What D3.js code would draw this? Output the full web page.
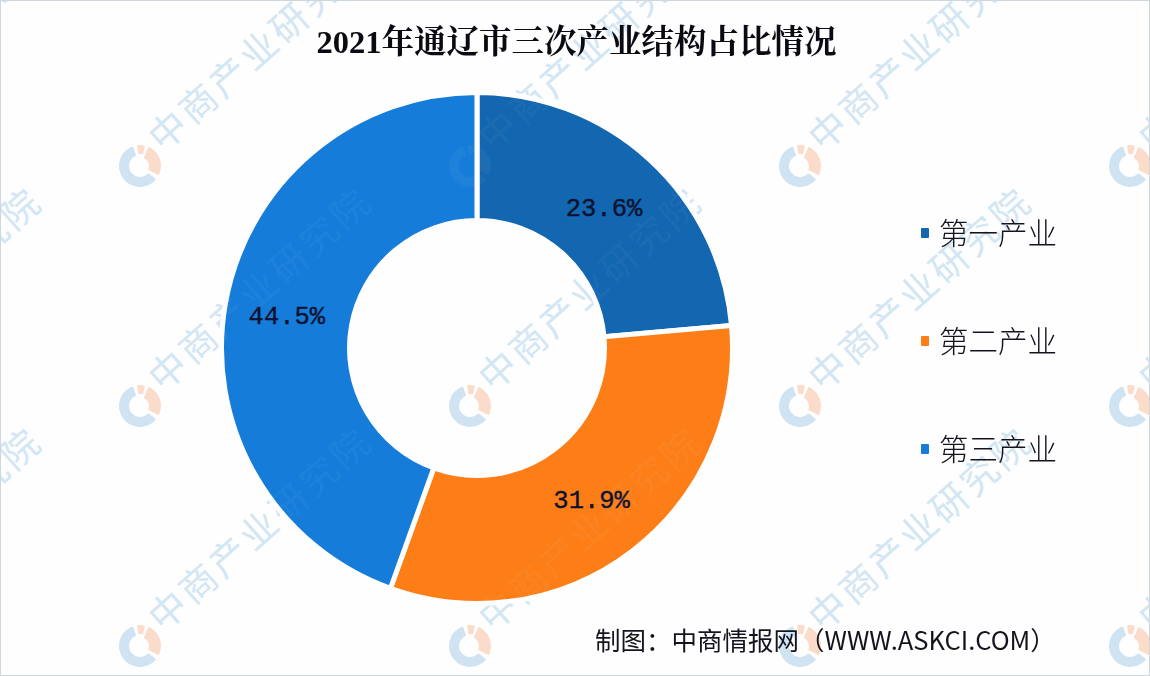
<!DOCTYPE html>
<html><head><meta charset="utf-8">
<script src="https://cdnjs.cloudflare.com/ajax/libs/d3/7.8.5/d3.min.js"></script>
<style>html,body{margin:0;padding:0;background:#fff;overflow:hidden}svg{display:block}</style>
</head><body><svg id="c" width="1150" height="676"></svg>
<script>
const titleText = "2021年通辽市三次产业结构占比情况";
const categories = ["第一产业","第二产业","第三产业"];
const values = [23.6,31.9,44.5];
const colors = ["#1366b0","#fd7e17","#157cd9"];
const sourceText = "制图:中商情报网(WWW.ASKCI.COM)";
const wmText = "中商产业研究院";
const wmCols = [-190,140,470,800,1130];
const wmRows = [166,406,646];

const svg = d3.select("#c");
svg.append("rect").attr("width",1150).attr("height",676).attr("fill","#fefefe");

function watermark(parent, op){
  const g = parent.append("g").attr("opacity",op);
  const rad = d=>d*Math.PI/180;
  const logoArc = d3.arc().cornerRadius(1);
  const pieces = [[130,340,11,21,"#cfe3f2"],[-8,14,12,21,"#fbdccb"],[24,116,9,21,"#fbdccb"]];
  wmCols.forEach(x=>wmRows.forEach(y=>{
    const w = g.append("g").attr("transform",`translate(${x},${y})`);
    pieces.forEach(a=>{
      w.append("path").attr("d",logoArc({startAngle:rad(a[0]),endAngle:rad(a[1]),innerRadius:a[2],outerRadius:a[3]})).attr("fill",a[4]);
    });
    w.append("text").attr("transform","translate(23,-13) rotate(-41.6)")
      .attr("font-family","'Noto Sans CJK SC'").attr("font-weight",400).attr("font-size",37).attr("fill","#d3e6f4")
      .attr("letter-spacing",3.5).text(wmText);
  }));
}
watermark(svg,1);

const cx=477, cy=348, rOuter=255.5, rInner=127.5, rLabel=191;
const pie = d3.pie().sort(null)(values);
const arc = d3.arc().innerRadius(rInner).outerRadius(rOuter);
const labelArc = d3.arc().innerRadius(rLabel).outerRadius(rLabel);
const chart = svg.append("g").attr("transform",`translate(${cx},${cy})`);
chart.selectAll("path").data(pie).join("path").attr("d",arc)
  .attr("fill",(d,i)=>colors[i]).attr("stroke","#fefefe").attr("stroke-width",5);
watermark(svg,0.05);
chart.selectAll("text").data(pie).join("text")
  .attr("transform",d=>{const c=labelArc.centroid(d);return `translate(${c[0]-2},${c[1]+2})`;})
  .attr("text-anchor","middle").attr("dominant-baseline","central")
  .attr("font-family","'Liberation Mono','DejaVu Sans Mono',monospace").attr("font-size",25.5)
  .attr("fill","#0c1230").attr("stroke","#0c1230").attr("stroke-width",0.4)
  .text(d=>d.value.toFixed(1)+"%");

svg.append("text").attr("x",576.5).attr("y",52.5).attr("text-anchor","middle")
  .attr("font-family","'Liberation Serif','Noto Serif CJK SC','Noto Sans CJK SC'")
  .attr("font-weight","bold").attr("font-size",32.5).attr("fill","#0a0a12").text(titleText);

const legendY = d3.scalePoint().domain(categories).range([233,449]);
const lg = svg.selectAll("g.lg").data(categories).join("g").attr("class","lg")
  .attr("transform",d=>`translate(925,${legendY(d)})`);
lg.append("rect").attr("x",-4).attr("y",-5).attr("width",8).attr("height",10).attr("rx",1)
  .attr("fill",(d,i)=>colors[i]);
lg.append("text").attr("x",14).attr("y",10.5).attr("font-family","'Noto Sans CJK SC'")
  .attr("font-weight",300).attr("font-size",29.5).attr("fill","#14141e").text(d=>d);

svg.append("text").attr("x",595).attr("y",650)
  .attr("font-family","'Noto Sans CJK SC'").attr("font-size",25.5).attr("fill","#14141e")
  .text(sourceText.replace(":","\uFF1A").replace("(","\uFF08").replace(")","\uFF09"));
svg.append("rect").attr("x",0.5).attr("y",0.5).attr("width",1149).attr("height",675)
  .attr("fill","none").attr("stroke","#cfd6dc");
</script></body></html>
